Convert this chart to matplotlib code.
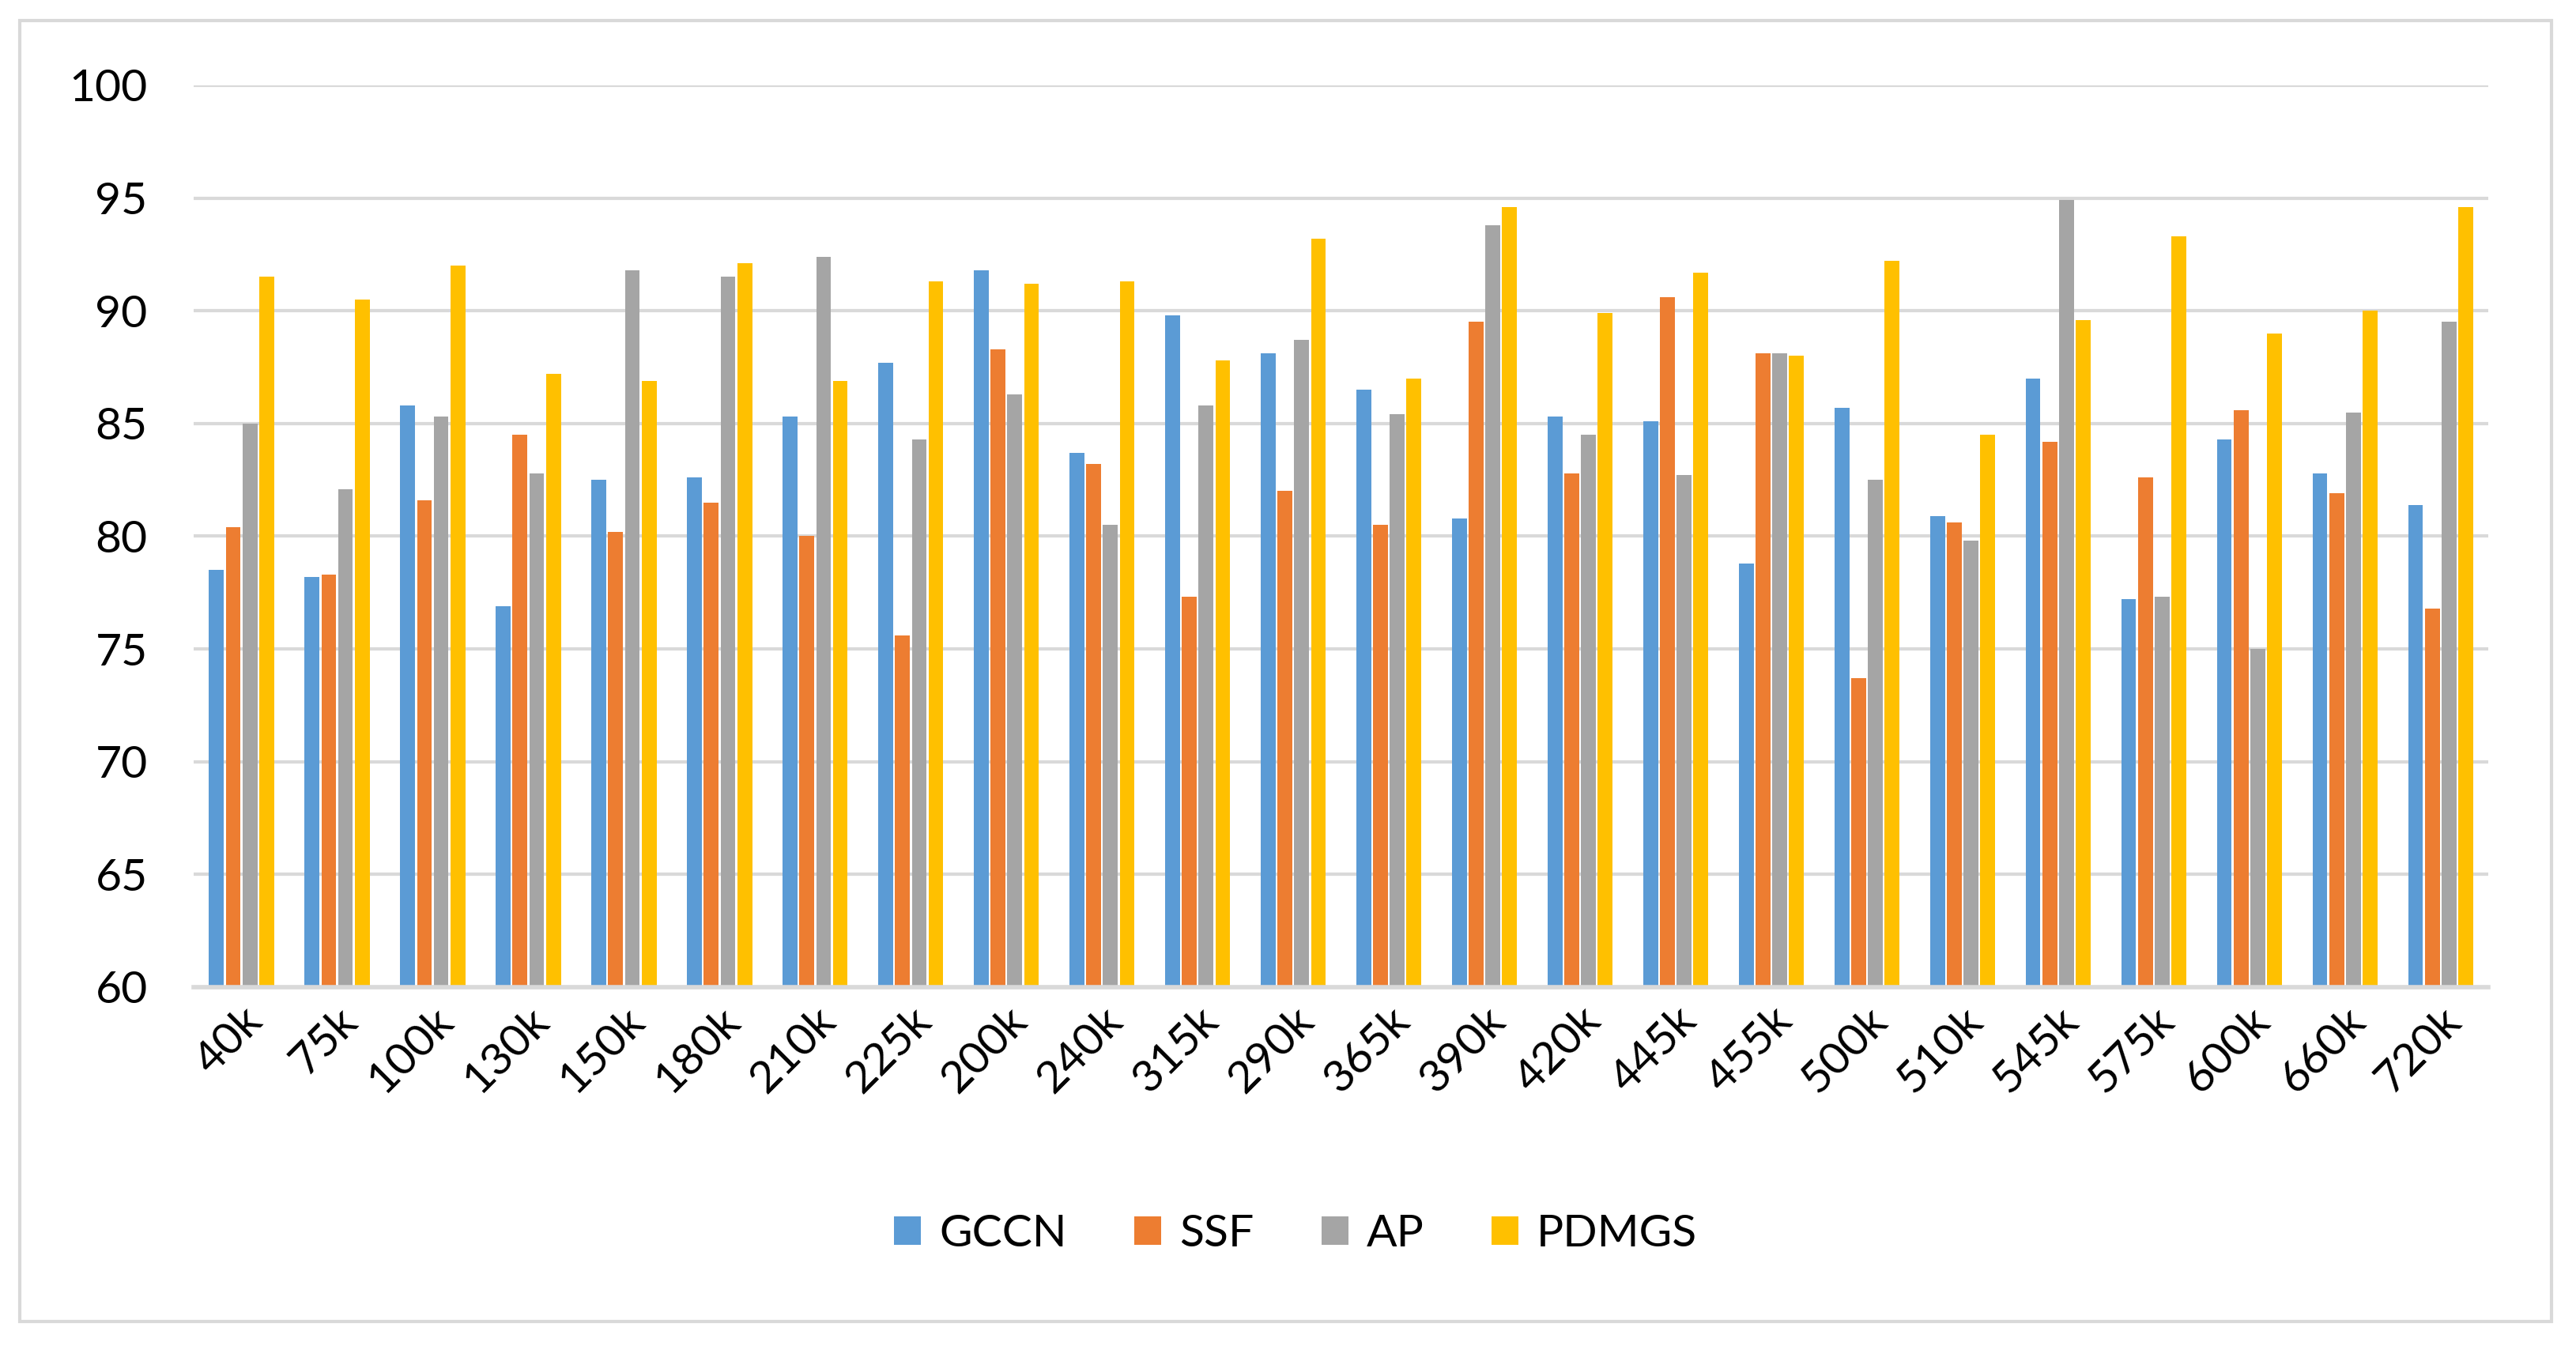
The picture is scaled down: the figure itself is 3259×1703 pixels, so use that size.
import numpy as np
import matplotlib
matplotlib.use('Agg')
from matplotlib import pyplot as plt
from matplotlib.patches import Rectangle

plt.rcParams['font.family'] = ['Lato', 'DejaVu Sans']

categories = ['40k', '75k', '100k', '130k', '150k', '180k', '210k', '225k', '200k', '240k',
              '315k', '290k', '365k', '390k', '420k', '445k', '455k', '500k', '510k', '545k',
              '575k', '600k', '660k', '720k']

gccn = [78.5, 78.2, 85.8, 76.9, 82.5, 82.6, 85.3, 87.7, 91.8, 83.7,
        89.8, 88.1, 86.5, 80.8, 85.3, 85.1, 78.8, 85.7, 80.9, 87.0,
        77.2, 84.3, 82.8, 81.4]
ssf = [80.4, 78.3, 81.6, 84.5, 80.2, 81.5, 80.0, 75.6, 88.3, 83.2,
       77.3, 82.0, 80.5, 89.5, 82.8, 90.6, 88.1, 73.7, 80.6, 84.2,
       82.6, 85.6, 81.9, 76.8]
ap = [85.0, 82.1, 85.3, 82.8, 91.8, 91.5, 92.4, 84.3, 86.3, 80.5,
      85.8, 88.7, 85.4, 93.8, 84.5, 82.7, 88.1, 82.5, 79.8, 94.9,
      77.3, 75.0, 85.5, 89.5]
pdmgs = [91.5, 90.5, 92.0, 87.2, 86.9, 92.1, 86.9, 91.3, 91.2, 91.3,
         87.8, 93.2, 87.0, 94.6, 89.9, 91.7, 88.0, 92.2, 84.5, 89.6,
         93.3, 89.0, 90.0, 94.6]

series = [('GCCN', gccn, '#5B9BD5'), ('SSF', ssf, '#ED7D31'),
          ('AP', ap, '#A5A5A5'), ('PDMGS', pdmgs, '#FFC000')]

fig = plt.figure(figsize=(32.59, 17.03), dpi=100)
ax = fig.add_axes([0.0752, 0.2666, 0.8908, 0.67])

# outer chart border
fig.patches.append(Rectangle((0.0077, 0.018), 0.9827, 0.967, transform=fig.transFigure,
                             fill=False, edgecolor='#D9D9D9', linewidth=3))

x = np.arange(len(categories))
w = 0.155
step = 0.175
for i, (name, vals, col) in enumerate(series):
    ax.bar(x + (i - 1.5) * step, np.array(vals) - 60, bottom=60, width=w,
           color=col, label=name, zorder=3)

ax.set_ylim(60, 100)
ax.set_xlim(-0.5, len(categories) - 0.5)
ax.set_yticks(np.arange(60, 101, 5))
ax.yaxis.grid(True, color='#D9D9D9', linewidth=3)
ax.set_axisbelow(True)
for s in ['top', 'right', 'left']:
    ax.spines[s].set_visible(False)
ax.spines['bottom'].set_color('#D9D9D9')
ax.spines['bottom'].set_linewidth(4)
ax.spines['bottom'].set_zorder(4)
ax.tick_params(axis='both', length=0, labelsize=41, colors='black')
ax.tick_params(axis='y', pad=42)
ax.set_xticks(x)
ax.set_xticklabels(categories, rotation=45, ha='right', va='top', rotation_mode='anchor')
ax.tick_params(axis='x', pad=12)

fig.legend(loc='center', bbox_to_anchor=(0.503, 0.083), ncol=4, frameon=False,
           fontsize=41, handlelength=0.6, handleheight=0.6, handletextpad=0.4,
           columnspacing=1.5)

fig.savefig('out.png', dpi=100)
